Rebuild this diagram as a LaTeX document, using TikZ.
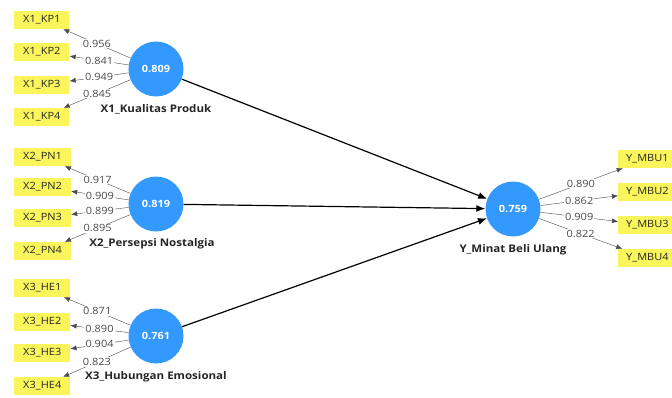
\documentclass[tikz,border=0pt]{standalone}
\usepackage{fontspec}
\setmainfont{Open Sans}[FakeStretch=1.1]
\usetikzlibrary{positioning}
\usetikzlibrary{arrows.meta}
\definecolor{myyellow}{RGB}{250,245,90}
\definecolor{myblue}{RGB}{51,153,255}
\definecolor{mygray}{RGB}{75,75,75}

\begin{document}
\begin{tikzpicture}[x=1pt, y=-1pt, font=\fontsize{10}{12}\selectfont,
    lv/.style={circle, fill=myblue, minimum size=55pt, inner sep=0pt, text=white, font=\fontsize{10}{12}\selectfont\bfseries},
    ind/.style={fill=myyellow, anchor=west, inner xsep=9pt, minimum height=18pt, text=black!85},
    lvname/.style={font=\fontsize{10.5}{12}\selectfont\bfseries, text=black!85},
    loadarrow/.style={draw=mygray, -{Latex[length=6pt,width=5pt]}},
    loadval/.style={fill=white, inner sep=1pt, midway, text=mygray},
    structarrow/.style={draw=black, line width=1.2pt, -{Latex[length=9pt,width=7pt]}}]
    \useasboundingbox[fill=white] (0,0) rectangle (672,397);

    % latent variables
    \node(X1)[lv] at (156,69) {0.809};
    \node(X2)[lv] at (156,204) {0.819};
    \node(X3)[lv] at (156,336) {0.761};
    \node(Y)[lv] at (513,209) {0.759};
    \node(X1n)[below=4pt of X1, lvname] {X1\_Kualitas Produk};
    \node(X2n)[below=3pt of X2, lvname, xshift=-4pt] {X2\_Persepsi Nostalgia};
    \node(X3n)[below=4pt of X3, lvname] {X3\_Hubungan Emosional};
    \node(Yn)[below=4pt of Y, lvname] {Y\_Minat Beli Ulang};

    % indicators
    \node(KP1)[ind] at (14,20) {X1\_KP1};
    \node(KP2)[ind] at (14,52) {X1\_KP2};
    \node(KP3)[ind] at (14,85) {X1\_KP3};
    \node(KP4)[ind] at (14,117) {X1\_KP4};
    \node(PN1)[ind] at (14,157) {X2\_PN1};
    \node(PN2)[ind] at (14,187) {X2\_PN2};
    \node(PN3)[ind] at (14,218) {X2\_PN3};
    \node(PN4)[ind] at (14,251) {X2\_PN4};
    \node(HE1)[ind] at (14,288) {X3\_HE1};
    \node(HE2)[ind] at (14,322) {X3\_HE2};
    \node(HE3)[ind] at (14,353) {X3\_HE3};
    \node(HE4)[ind] at (14,386) {X3\_HE4};
    \node(MBU1)[ind, inner xsep=8pt] at (618,159) {Y\_MBU1};
    \node(MBU2)[ind, inner xsep=8pt] at (618,192) {Y\_MBU2};
    \node(MBU3)[ind, inner xsep=8pt] at (618,225) {Y\_MBU3};
    \node(MBU4)[ind, inner xsep=8pt] at (618,258) {Y\_MBU4};

    % outer loadings
    \draw[loadarrow](X1) -- (KP1) node[loadval] {0.956};
    \draw[loadarrow](X1) -- (KP2) node[loadval] {0.841};
    \draw[loadarrow](X1) -- (KP3) node[loadval] {0.949};
    \draw[loadarrow](X1) -- (KP4) node[loadval] {0.845};
    \draw[loadarrow](X2) -- (PN1) node[loadval] {0.917};
    \draw[loadarrow](X2) -- (PN2) node[loadval] {0.909};
    \draw[loadarrow](X2) -- (PN3) node[loadval] {0.899};
    \draw[loadarrow](X2) -- (PN4) node[loadval] {0.895};
    \draw[loadarrow](X3) -- (HE1) node[loadval] {0.871};
    \draw[loadarrow](X3) -- (HE2) node[loadval] {0.890};
    \draw[loadarrow](X3) -- (HE3) node[loadval] {0.904};
    \draw[loadarrow](X3) -- (HE4) node[loadval] {0.823};
    \draw[loadarrow](Y) -- (MBU1) node[loadval] {0.890};
    \draw[loadarrow](Y) -- (MBU2) node[loadval] {0.862};
    \draw[loadarrow](Y) -- (MBU3) node[loadval] {0.909};
    \draw[loadarrow](Y) -- (MBU4) node[loadval] {0.822};

    % inner model
    \draw[structarrow](X1) -- (Y);
    \draw[structarrow](X2) -- (Y);
    \draw[structarrow](X3) -- (Y);
\end{tikzpicture}
\end{document}
